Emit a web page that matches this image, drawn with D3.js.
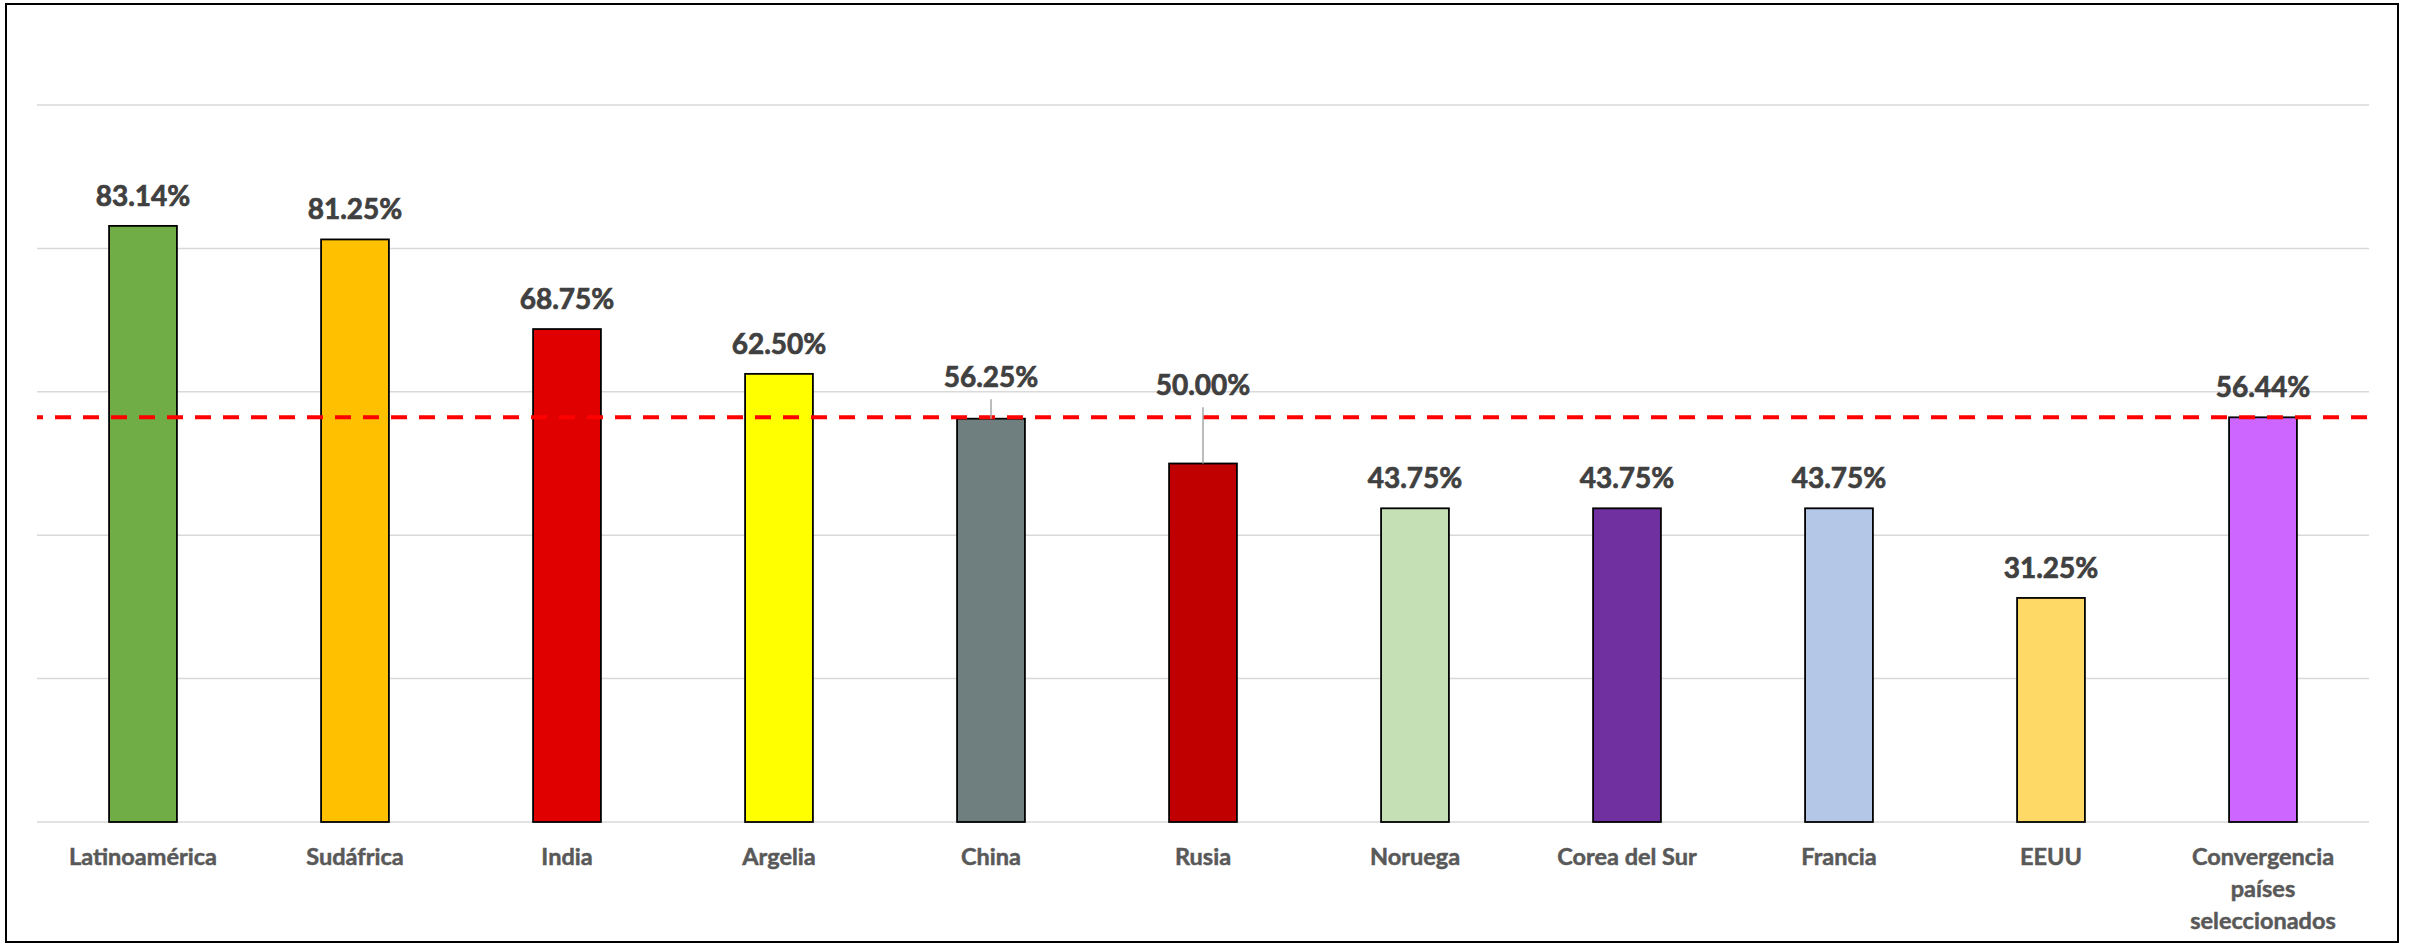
<!DOCTYPE html>
<html>
<head>
<meta charset="utf-8">
<script src="https://cdn.jsdelivr.net/npm/d3@7"></script>
<style>
  body { margin: 0; background: #fff; }
  .grid-line { stroke: #d9d9d9; stroke-width: 1.5; }
  .value-label { font-family: Lato, "Open Sans", sans-serif; font-weight: bold; fill: #404040; stroke: #404040; stroke-width: 0.7; }
  .cat-label { font-family: Lato, "Open Sans", sans-serif; font-weight: bold; fill: #595959; stroke: #595959; stroke-width: 0.5; }
</style>
</head>
<body>
<div id="chart"></div>
<script>
var categories = ["Latinoamérica", "Sudáfrica", "India", "Argelia", "China", "Rusia",
  "Noruega", "Corea del Sur", "Francia", "EEUU", "Convergencia países seleccionados"];
var values = [83.14, 81.25, 68.75, 62.50, 56.25, 50.00, 43.75, 43.75, 43.75, 31.25, 56.44];
var barColors = ["#70ad47", "#ffc000", "#e00000", "#ffff00", "#6f7f7f", "#c00000",
  "#c5e0b4", "#7030a0", "#b4c7e7", "#ffd966", "#cc66ff"];
var yTicks = [0, 20, 40, 60, 80, 100];
var referenceValue = 56.44;
// labels that were pulled above the dashed line, with a leader line
var liftedLabels = {"China": 30, "Rusia": 22};

var width = 2410, height = 946,
    margins = {top: 105, left: 37, right: 41, bottom: 124};

var svg = d3.select("#chart").append("svg")
    .attr("width", width)
    .attr("height", height);

// outer frame
svg.append("rect")
    .attr("x", 6).attr("y", 4)
    .attr("width", 2392).attr("height", height - 8)
    .attr("fill", "#fff")
    .attr("stroke", "#000")
    .attr("stroke-width", 2);

var x = d3.scaleBand()
    .domain(categories)
    .range([margins.left, width - margins.right])
    .paddingInner(0.68)
    .paddingOuter(0.34);

var y = d3.scaleLinear()
    .domain([0, 100])
    .range([height - margins.bottom, margins.top]);

var g = svg.append("g");

g.selectAll("line.grid-line")
    .data(yTicks)
    .enter().append("line")
    .attr("class", "grid-line")
    .attr("x1", margins.left)
    .attr("x2", width - margins.right)
    .attr("y1", function (d) { return y(d); })
    .attr("y2", function (d) { return y(d); });

var data = categories.map(function (c, i) {
    return {cat: c, value: values[i], color: barColors[i]};
});

g.selectAll("rect.bar")
    .data(data)
    .enter().append("rect")
    .attr("class", "bar")
    .attr("x", function (d) { return x(d.cat); })
    .attr("y", function (d) { return y(d.value); })
    .attr("width", x.bandwidth())
    .attr("height", function (d) { return y(0) - y(d.value); })
    .attr("fill", function (d) { return d.color; })
    .attr("stroke", "#000")
    .attr("stroke-width", 1.8);

// reference (average) dashed line
g.append("line")
    .attr("x1", margins.left)
    .attr("x2", width - margins.right)
    .attr("y1", y(referenceValue))
    .attr("y2", y(referenceValue))
    .attr("stroke", "#ff0000")
    .attr("stroke-width", 4)
    .attr("stroke-dasharray", "16,12")
    .attr("stroke-dashoffset", 10);

function labelY(d) {
    if (liftedLabels[d.cat] !== undefined) return y(referenceValue) - liftedLabels[d.cat];
    return y(d.value) - 20;
}

// leader lines
g.selectAll("line.leader")
    .data(data.filter(function (d) { return liftedLabels[d.cat] !== undefined; }))
    .enter().append("line")
    .attr("class", "leader")
    .attr("x1", function (d) { return x(d.cat) + x.bandwidth() / 2; })
    .attr("x2", function (d) { return x(d.cat) + x.bandwidth() / 2; })
    .attr("y1", function (d) { return labelY(d) + 12; })
    .attr("y2", function (d) { return y(d.value); })
    .attr("stroke", "#a6a6a6")
    .attr("stroke-width", 1.5);

g.selectAll("text.value-label")
    .data(data)
    .enter().append("text")
    .attr("class", "value-label")
    .attr("x", function (d) { return x(d.cat) + x.bandwidth() / 2; })
    .attr("y", labelY)
    .attr("text-anchor", "middle")
    .attr("font-size", 28)
    .text(function (d) { return d.value.toFixed(2) + "%"; });

// category labels (wrapped like the original)
var wrapped = {"Convergencia países seleccionados": ["Convergencia", "países", "seleccionados"]};

var catG = g.selectAll("text.cat-label")
    .data(data)
    .enter().append("text")
    .attr("class", "cat-label")
    .attr("text-anchor", "middle")
    .attr("font-size", 23.5)
    .attr("x", function (d) { return x(d.cat) + x.bandwidth() / 2; })
    .attr("y", y(0) + 43);

catG.each(function (d) {
    var lines = wrapped[d.cat] || [d.cat];
    var t = d3.select(this);
    lines.forEach(function (l, i) {
        t.append("tspan")
            .attr("x", x(d.cat) + x.bandwidth() / 2)
            .attr("dy", i === 0 ? 0 : 32)
            .text(l);
    });
});
</script>
</body>
</html>
